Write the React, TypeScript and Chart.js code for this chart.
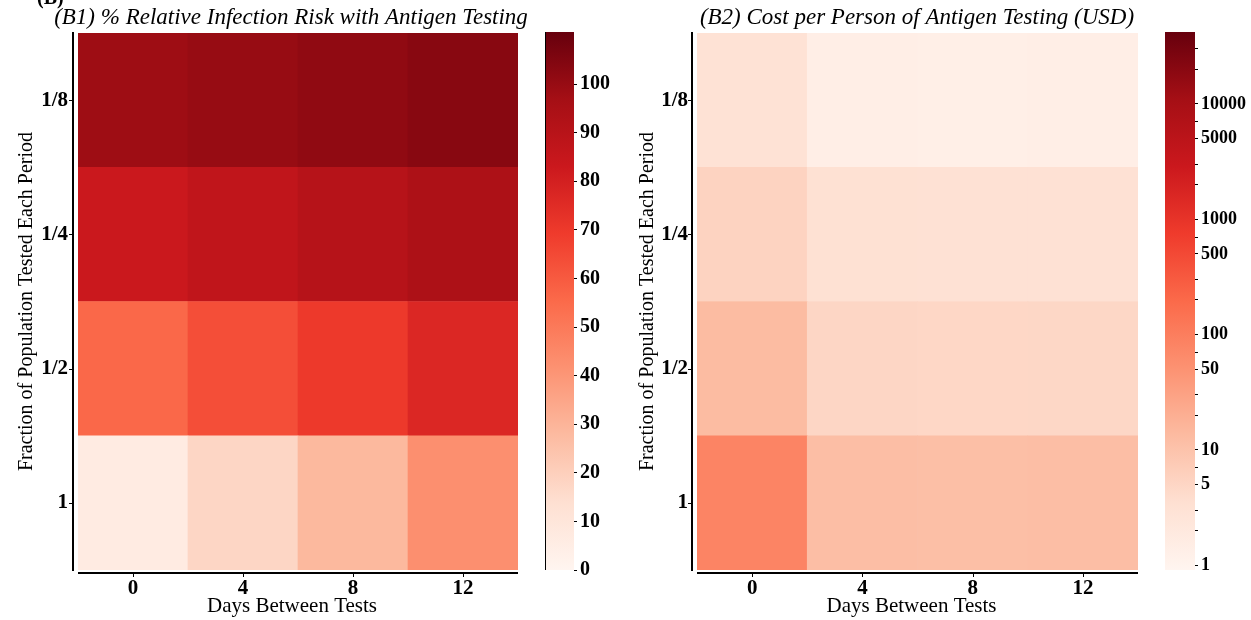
import React, { useEffect, useRef } from 'react';
import { Chart, registerables } from 'chart.js';

Chart.register(...registerables);

// ---------------- data ----------------
const days = ['0', '4', '8', '12'];
// bottom -> top
const fractions = ['1', '1/2', '1/4', '1/8'];

// % relative infection risk, one array per fraction row
const riskRow1 = [6.5, 17.5, 28.5, 42.6];
const riskRowHalf = [56, 63.5, 70, 77];
const riskRowQuarter = [83.5, 87, 90.5, 94];
const riskRowEighth = [98.5, 100, 101.5, 103.4];

// cost per person (USD), one array per fraction row
const costRow1 = [81, 12, 11.5, 11.8];
const costRowHalf = [13, 5, 4.8, 4.9];
const costRowQuarter = [5.6, 3.3, 3.2, 3.2];
const costRowEighth = [3.1, 1.4, 1.35, 1.4];

const riskMin = 0;
const riskMax = 110.7;
const riskTicks = [0, 10, 20, 30, 40, 50, 60, 70, 80, 90, 100];

const costMin = 0.91;
const costMax = 42000;
const costTicks = [
  1, 2, 3, 5, 7, 10, 20, 30, 50, 70, 100, 200, 300, 500, 700,
  1000, 2000, 3000, 5000, 7000, 10000, 20000, 30000,
];
const costLabelled = [1, 5, 10, 50, 100, 500, 1000, 5000, 10000];

const titleRisk = '(B1) % Relative Infection Risk with Antigen Testing';
const titleCost = '(B2) Cost per Person of Antigen Testing (USD)';
const xTitle = 'Days Between Tests';
const yTitle = 'Fraction of Population Tested Each Period';

// ---------------- colormap (matplotlib "Reds") ----------------
const REDS = [
  [255, 245, 240],
  [254, 224, 210],
  [252, 187, 161],
  [252, 146, 114],
  [251, 106, 74],
  [239, 59, 44],
  [203, 24, 29],
  [165, 15, 21],
  [103, 0, 13],
];
function reds(t: number): string {
  const tt = Math.max(0, Math.min(1, t)) * (REDS.length - 1);
  const i = Math.min(REDS.length - 2, Math.floor(tt));
  const f = tt - i;
  const a = REDS[i];
  const b = REDS[i + 1];
  const c = a.map((v, k) => Math.round(v + (b[k] - v) * f));
  return `rgb(${c[0]},${c[1]},${c[2]})`;
}
const riskColor = (v: number) => reds((v - riskMin) / (riskMax - riskMin));
const costColor = (v: number) =>
  reds((Math.log10(v) - Math.log10(costMin)) / (Math.log10(costMax) - Math.log10(costMin)));

const FONT = "'Liberation Serif', 'Times New Roman', serif";
Chart.defaults.font.family = FONT;
Chart.defaults.color = '#000';

// ---------------- heatmap ----------------
function heatmapConfig(
  rows: number[][],
  colorFor: (v: number) => string,
  title: string,
  titleX: number,
  yAxisWidth: number,
  yTitlePad: number,
  yLabelPad: number,
  extraText: boolean
): any {
  const decor = {
    id: 'decor',
    afterDraw(chart: any) {
      const { ctx, chartArea } = chart;
      const xs = chart.scales.x;
      const ys = chart.scales.y;
      ctx.save();
      ctx.fillStyle = '#000';
      ctx.strokeStyle = '#000';
      // title
      ctx.font = `italic 23px ${FONT}`;
      ctx.textAlign = 'center';
      ctx.textBaseline = 'middle';
      ctx.fillText(title, titleX, 18);
      // x axis title
      ctx.font = `21px ${FONT}`;
      ctx.fillText(xTitle, (chartArea.left + chartArea.right) / 2 - 6, 606);
      if (extraText) {
        ctx.font = `bold 20px ${FONT}`;
        ctx.textAlign = 'left';
        ctx.textBaseline = 'alphabetic';
        ctx.fillText('(B)', 37, 4);
      }
      // spines
      ctx.lineWidth = 2;
      const sx = chartArea.left - 5;
      ctx.beginPath();
      ctx.moveTo(sx, chartArea.top - 1);
      ctx.lineTo(sx, chartArea.bottom + 1);
      ctx.stroke();
      const sy = chartArea.bottom + 3;
      ctx.beginPath();
      ctx.moveTo(chartArea.left, sy);
      ctx.lineTo(chartArea.right, sy);
      ctx.stroke();
      // tick marks
      ctx.lineWidth = 1;
      ys.ticks.forEach((t: any) => {
        const py = Math.round(ys.getPixelForValue(t.value)) + 0.5;
        ctx.beginPath();
        ctx.moveTo(sx - 4, py);
        ctx.lineTo(sx, py);
        ctx.stroke();
      });
      xs.ticks.forEach((_t: any, i: number) => {
        const px = Math.round(xs.getPixelForTick(i)) + 0.5;
        ctx.beginPath();
        ctx.moveTo(px, sy);
        ctx.lineTo(px, sy + 4);
        ctx.stroke();
      });
      ctx.restore();
    },
  };

  return {
    type: 'bar',
    data: {
      labels: days,
      datasets: rows.map((vals, r) => ({
        data: vals.map(() => [r, r + 1]),
        backgroundColor: vals.map(colorFor),
        borderWidth: 0,
        barPercentage: 1,
        categoryPercentage: 1,
        grouped: false,
      })),
    },
    options: {
      animation: false,
      responsive: false,
      maintainAspectRatio: false,
      layout: { padding: { top: 33, right: 12, left: 0, bottom: 0 } },
      plugins: { legend: { display: false }, tooltip: { enabled: false } },
      scales: {
        x: {
          type: 'category',
          offset: true,
          grid: { display: false, drawTicks: false },
          border: { display: false },
          afterFit: (s: any) => {
            s.height = 50;
          },
          ticks: { padding: 6, color: '#000', font: { size: 21, weight: 'bold' }, maxRotation: 0 },
          title: { display: false },
        },
        y: {
          type: 'linear',
          min: 0,
          max: 4,
          grid: { display: false, drawTicks: false },
          border: { display: false },
          afterFit: (s: any) => {
            s.width = yAxisWidth;
          },
          afterBuildTicks: (s: any) => {
            s.ticks = [0.5, 1.5, 2.5, 3.5].map((v) => ({ value: v }));
          },
          ticks: {
            padding: yLabelPad,
            color: '#000',
            font: { size: 21, weight: 'bold' },
            callback: (_v: any, i: number) => fractions[i],
          },
          title: {
            display: true,
            text: yTitle,
            color: '#000',
            font: { size: 20 },
            padding: { top: yTitlePad, bottom: 0 },
          },
        },
      },
    },
    plugins: [decor],
  };
}

// ---------------- colorbar ----------------
function colorbarConfig(kind: 'linear' | 'log', leftBorder: boolean, fontSize: number): any {
  const grad = {
    id: 'grad',
    beforeDraw(chart: any) {
      const { ctx, chartArea } = chart;
      const g = ctx.createLinearGradient(0, chartArea.bottom, 0, chartArea.top);
      REDS.forEach((c, i) => g.addColorStop(i / (REDS.length - 1), `rgb(${c[0]},${c[1]},${c[2]})`));
      ctx.save();
      ctx.fillStyle = g;
      ctx.fillRect(chartArea.left, chartArea.top, chartArea.right - chartArea.left, chartArea.bottom - chartArea.top);
      if (leftBorder) {
        ctx.strokeStyle = '#000';
        ctx.lineWidth = 1;
        ctx.beginPath();
        ctx.moveTo(chartArea.left + 0.5, chartArea.top);
        ctx.lineTo(chartArea.left + 0.5, chartArea.bottom);
        ctx.stroke();
      }
      ctx.restore();
    },
  };
  const isLog = kind === 'log';
  return {
    type: 'scatter',
    data: { datasets: [{ data: [] }] },
    options: {
      animation: false,
      responsive: false,
      maintainAspectRatio: false,
      layout: { padding: { top: 32, bottom: 50, left: 15, right: 0 } },
      plugins: { legend: { display: false }, tooltip: { enabled: false } },
      scales: {
        x: { display: false, min: 0, max: 1 },
        y: {
          type: isLog ? 'logarithmic' : 'linear',
          position: 'right',
          min: isLog ? costMin : riskMin,
          max: isLog ? costMax : riskMax,
          afterFit: (s: any) => {
            s.width = 56;
          },
          afterBuildTicks: (s: any) => {
            s.ticks = (isLog ? costTicks : riskTicks).map((v) => ({ value: v }));
          },
          grid: { drawOnChartArea: false, drawTicks: true, tickLength: 3, color: '#000', lineWidth: 1 },
          border: { display: false },
          ticks: {
            padding: 3,
            color: '#000',
            font: { size: fontSize, weight: 'bold' },
            autoSkip: false,
            callback: (v: any) => {
              const n = Number(v);
              if (isLog) return costLabelled.includes(n) ? String(n) : '';
              return String(n);
            },
          },
        },
      },
    },
    plugins: [grad],
  };
}

export default function App() {
  const c1 = useRef<HTMLCanvasElement>(null);
  const c2 = useRef<HTMLCanvasElement>(null);
  const c3 = useRef<HTMLCanvasElement>(null);
  const c4 = useRef<HTMLCanvasElement>(null);

  useEffect(() => {
    const riskRows = [riskRow1, riskRowHalf, riskRowQuarter, riskRowEighth];
    const costRows = [costRow1, costRowHalf, costRowQuarter, costRowEighth];
    const charts = [
      new Chart(c1.current!, heatmapConfig(riskRows, riskColor, titleRisk, 291, 78, 15, 10, true)),
      new Chart(c2.current!, colorbarConfig('linear', true, 20)),
      new Chart(c3.current!, heatmapConfig(costRows, costColor, titleCost, 287, 67, 6, 9, false)),
      new Chart(c4.current!, colorbarConfig('log', false, 18)),
    ];
    return () => charts.forEach((c) => c.destroy());
  }, []);

  const abs = (left: number, width: number): React.CSSProperties => ({
    position: 'absolute',
    left,
    top: 0,
    width,
    height: 620,
  });

  return (
    <div style={{ position: 'absolute', left: 0, top: 0, width: 1251, height: 620, background: '#fff' }}>
      <canvas ref={c1} width={530} height={620} style={abs(0, 530)} />
      <canvas ref={c2} width={100} height={620} style={abs(530, 100)} />
      <canvas ref={c3} width={520} height={620} style={abs(630, 520)} />
      <canvas ref={c4} width={101} height={620} style={abs(1150, 101)} />
    </div>
  );
}
